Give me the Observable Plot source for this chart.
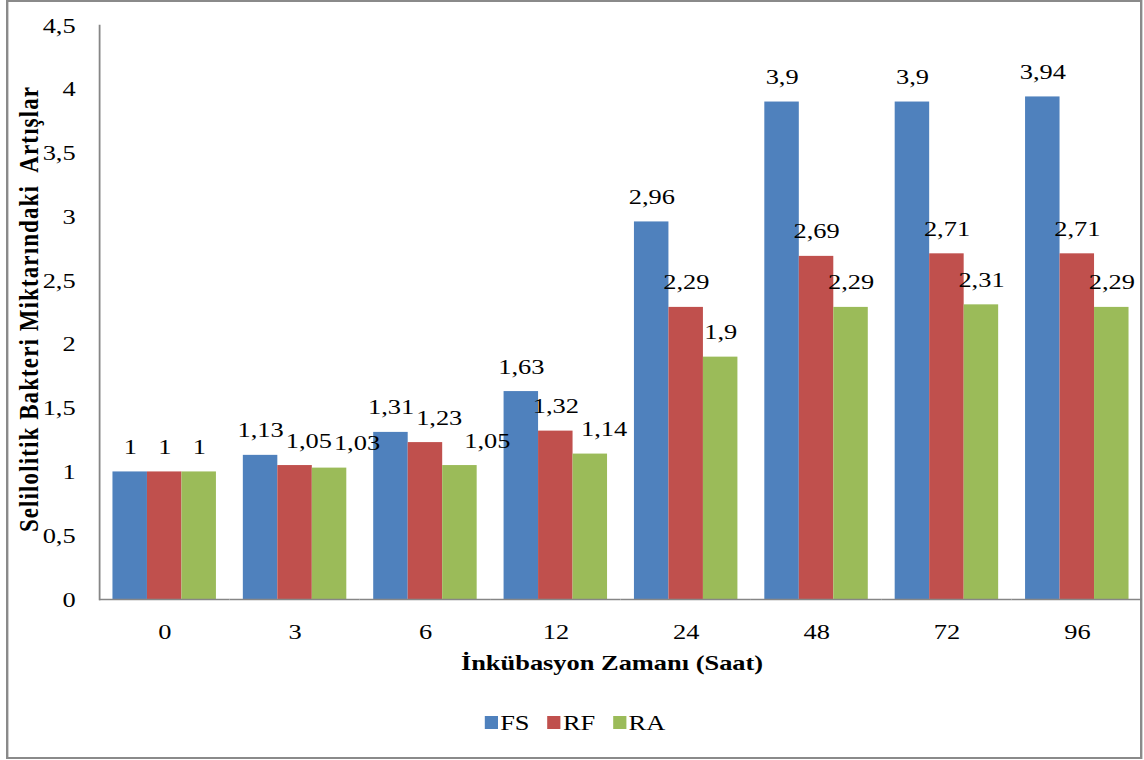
<!DOCTYPE html>
<html>
<head>
<meta charset="utf-8">
<script src="https://cdn.jsdelivr.net/npm/d3@7"></script>
<script src="https://cdn.jsdelivr.net/npm/@observablehq/plot@0.6"></script>
<style>
  html, body { margin: 0; padding: 0; background: #fff; }
  /* the whole figure is laid out at a narrower width and widened horizontally */
  #page {
    position: relative; width: 953.33px; height: 760px;
    transform: scaleX(1.2); transform-origin: 0 0;
    font-family: "Liberation Serif", "Times New Roman", serif; color: #000;
  }
  #frame {
    position: absolute; left: 5px; top: 0; width: 946.7px; height: 759px;
    border: 2px solid #8a8a8a; box-sizing: border-box;
  }
  #chart { position: absolute; left: 0; top: 0; }
  #chart svg text { font-family: "Liberation Serif", "Times New Roman", serif; }
  #ytitle {
    position: absolute; left: 23.5px; top: 309px; white-space: pre;
    font-weight: bold; font-size: 23px; line-height: 23px; letter-spacing: 1.1px;
    transform: translate(-50%, -50%) rotate(-90deg);
  }
  #xtitle {
    position: absolute; left: 510px; top: 651.6px; white-space: pre;
    font-weight: bold; font-size: 22px; line-height: 22px;
    transform: translateX(-50%);
  }
  #legend {
    position: absolute; left: 404px; top: 711.6px;
    display: flex; align-items: center; font-size: 22px; line-height: 22px;
  }
  #legend .item { display: flex; align-items: center; margin-right: 15px; }
  #legend .swatch { width: 10.8px; height: 13px; margin-right: 2px; }
</style>
</head>
<body>
<div id="page">
  <div id="frame"></div>
  <div id="chart"></div>
  <div id="ytitle"></div>
  <div id="xtitle"></div>
  <div id="legend"></div>
</div>
<script>
// Incubation times (hours) on the category axis
const times = ["0", "3", "6", "12", "24", "48", "72", "96"];
// Series names and their fills
const seriesNames = ["FS", "RF", "RA"];
const seriesColors = ["#4F81BD", "#C0504D", "#9BBB59"];
// Increase in cellulolytic bacteria count per series
const fsValues = [1, 1.13, 1.31, 1.63, 2.96, 3.9, 3.9, 3.94];
const rfValues = [1, 1.05, 1.23, 1.32, 2.29, 2.69, 2.71, 2.71];
const raValues = [1, 1.03, 1.05, 1.14, 1.9, 2.29, 2.31, 2.29];
// Value axis ticks
const yTicks = [0, 0.5, 1, 1.5, 2, 2.5, 3, 3.5, 4, 4.5];

const yTitle = "Selilolitik Bakteri Miktarındaki  Artışlar";
const xTitle = "İnkübasyon Zamanı (Saat)";

const seriesValues = [fsValues, rfValues, raValues];
const rows = times.flatMap((t, i) =>
  seriesNames.map((s, j) => ({time: t, series: s, value: seriesValues[j][i]}))
);

// decimal comma
const fmt = (v) => String(v).replace(".", ",");

const stretch = 1.2;
const gray = "#868686";

const chart = Plot.plot({
  width: 953.33,
  height: 700,
  marginLeft: 82.5,
  marginRight: 1.67,
  marginTop: 25,
  marginBottom: 101,
  style: {fontSize: "22px", color: "#000", background: "transparent", overflow: "visible"},
  fx: {domain: times, padding: 0, round: false, label: null, axis: null},
  x: {domain: seriesNames, paddingInner: 0, paddingOuter: 0.39, round: false, axis: null},
  y: {domain: [0, 4.5], axis: null},
  color: {domain: seriesNames, range: seriesColors},
  marks: [
    Plot.barY(rows, {fx: "time", x: "series", y: "value", fill: "series"}),
    Plot.ruleY([0], {stroke: gray, strokeWidth: 1.5}),
    Plot.frame({anchor: "left", facetAnchor: "left", stroke: gray, strokeWidth: 1.5}),
    Plot.text(rows, {fx: "time", x: "series", y: "value", text: (d) => fmt(d.value), dy: -25, fill: "#000", className: "value-label"}),
    Plot.axisY({ticks: yTicks, tickFormat: fmt, tickSize: 0, tickPadding: 20, label: null, fill: "#000"}),
    Plot.axisFx({anchor: "bottom", tickSize: 0, tickPadding: 24, label: null, fill: "#000"})
  ]
});

document.getElementById("chart").appendChild(chart);
document.getElementById("ytitle").textContent = yTitle;
document.getElementById("xtitle").textContent = xTitle;

const legend = document.getElementById("legend");
seriesNames.forEach((s, j) => {
  const item = document.createElement("div");
  item.className = "item";
  const sw = document.createElement("div");
  sw.className = "swatch";
  sw.style.background = seriesColors[j];
  const label = document.createElement("span");
  label.textContent = s;
  item.appendChild(sw);
  item.appendChild(label);
  legend.appendChild(item);
});

// Nudge crowded value labels sideways so that neighbours do not collide
const labelNodes = Array.from(chart.querySelectorAll(".value-label text"));
const placed = [];
labelNodes.forEach((node) => {
  const r = node.getBoundingClientRect();
  let shift = 0;
  for (const p of placed) {
    const left = r.left + shift, right = r.right + shift;
    const vOverlap = r.top < p.bottom && r.bottom > p.top;
    const hOverlap = left < p.right && right > p.left;
    if (vOverlap && hOverlap) shift += p.right - left + 2;
  }
  if (shift) node.setAttribute("dx", shift / stretch);
  placed.push({left: r.left + shift, right: r.right + shift, top: r.top, bottom: r.bottom});
});
</script>
</body>
</html>
